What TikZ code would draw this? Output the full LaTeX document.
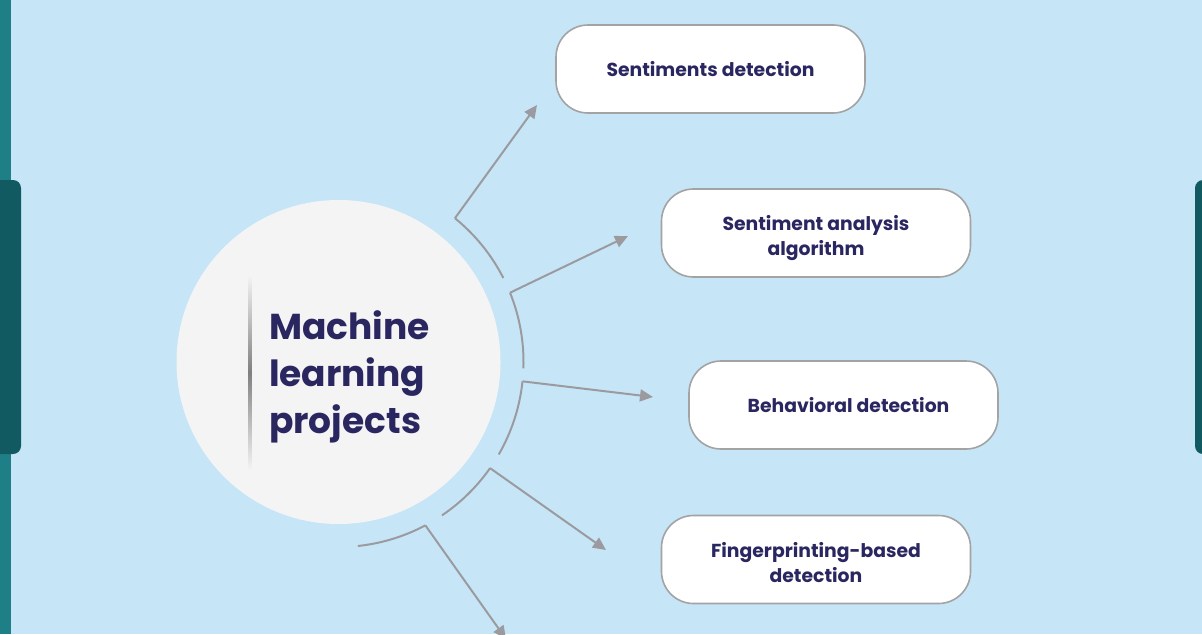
\documentclass[tikz,border=0pt]{standalone}
\usepackage{fontspec}
\setsansfont{Poppins}
\usepackage{tikz}
\usepackage{xcolor}
\usetikzlibrary{
  positioning, arrows.meta, shapes.geometric, calc,
}
\definecolor{cBg}      {HTML}{C6E6F8}
\definecolor{cStrip}   {HTML}{1F7F86}
\definecolor{cTab}     {HTML}{115A62}
\definecolor{cHub}     {HTML}{F4F4F4}
\definecolor{cInk}     {HTML}{2A2660}
\definecolor{cLine}    {HTML}{9B9B9F}
\definecolor{cFrame}   {HTML}{A3A3A3}

\begin{document}
\begin{tikzpicture}[x=0.5pt, y=0.5pt,
    usebox/.style={draw=cFrame, line width=0.8pt, fill=white, rounded corners=16pt,
      minimum width=154.5pt, minimum height=44pt, align=center,
      font=\sffamily\bfseries\fontsize{9.4}{12.5}\selectfont, text=cInk},
    ring/.style={cLine, line width=1pt},
    spoke/.style={cLine, line width=1pt, -{Triangle[length=6.5pt, width=6pt]}},
  ]
        % background and side tabs
        \fill[cBg] (0, 0) rectangle (1202, 634);
        \useasboundingbox (0, 0) rectangle (1202, 634);
        \clip (0, 0) rectangle (1202, 634);
        \fill[cStrip] (0, 0) rectangle (11, 634);
        \fill[cTab, rounded corners=4pt] (-20, 180) rectangle (21, 454);
        \fill[cTab, rounded corners=4pt] (1195, 180) rectangle (1230, 454);
        % hub circle
        \node[circle, fill=cHub, minimum size=162pt, inner sep=0] (hub) at (338.5, 272) {};
        \shade[top color=cHub, bottom color=cHub, middle color=black!50]
            (248.5, 164) rectangle (251.5, 359);
        \node[font=\sffamily\bfseries\fontsize{18}{23.5}\selectfont, text=cInk,
              align=left, anchor=west] (title) at (262, 257)
            {Machine\\learning\\projects};
        % use-case boxes
        \node[usebox] (b1) at (710.5, 565)   {Sentiments detection};
        \node[usebox] (b2) at (816, 401)     {\rule{0pt}{13pt}Sentiment analysis\\algorithm};
        \node[usebox] (b3) at (843.5, 229)   {\hspace{5pt}Behavioral detection};
        \node[usebox] (b4) at (816, 74.5)    {\rule{0pt}{11pt}Fingerprinting-based\\detection};
        % arc pieces round the hub, each with its spoke
        \foreach \i/\a/\b/\tx/\ty in
          {1/51/27/537/529, 2/22/-2/628/398, 3/-6/-30/653/237,
           4/-35/-56/606/84, 5/-62/-84/506/-5}{
          \coordinate (s\i) at ($(hub.center)+(\a:185)$);
          \coordinate (t\i) at (\tx, \ty);
          \draw[ring] (s\i) arc[start angle=\a, end angle=\b, radius=185];
          \draw[spoke] (s\i) -- (t\i);
        }
      \end{tikzpicture}
\end{document}
